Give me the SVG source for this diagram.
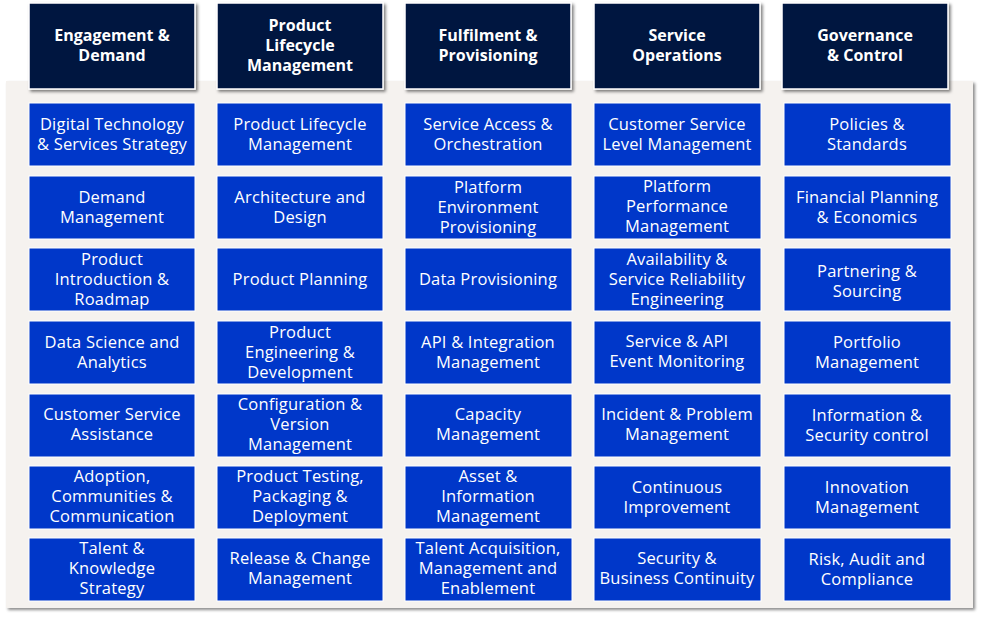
<svg xmlns="http://www.w3.org/2000/svg" width="981" height="619" viewBox="0 0 981 619">
<defs>
<filter id="sh" x="-5%" y="-5%" width="110%" height="110%"><feDropShadow dx="2" dy="2" stdDeviation="1.5" flood-color="#000" flood-opacity="0.45"/></filter>
<filter id="sh2" x="-10%" y="-10%" width="120%" height="120%"><feDropShadow dx="2" dy="2" stdDeviation="1.5" flood-color="#000" flood-opacity="0.5"/></filter>
</defs>
<style>
.hd{fill:#061241;stroke:#fff;stroke-width:1.5}
.cell{fill:#0037c9;stroke:#fff;stroke-width:1}
.ht{font-family:"Open Sans","Noto Sans",sans-serif;font-weight:bold;font-size:16px;fill:#fff;text-anchor:middle}
.ct{font-family:"Open Sans","Noto Sans",sans-serif;font-size:16.5px;letter-spacing:0.2px;fill:#fff;text-anchor:middle}
</style>
<rect width="981" height="619" fill="#fff"/>
<rect x="6" y="81" width="967" height="527" fill="#f5f2ef" filter="url(#sh)"/>
<g id="headers">
<g id="h1"><rect class="hd" x="29" y="3" width="166" height="86" filter="url(#sh2)"/><text class="ht" x="112" y="41">Engagement &amp;</text><text class="ht" x="112" y="61">Demand</text></g>
<g id="h2"><rect class="hd" x="217" y="3" width="166" height="86" filter="url(#sh2)"/><text class="ht" x="300" y="31">Product</text><text class="ht" x="300" y="51">Lifecycle</text><text class="ht" x="300" y="71">Management</text></g>
<g id="h3"><rect class="hd" x="405" y="3" width="166" height="86" filter="url(#sh2)"/><text class="ht" x="488" y="41">Fulfilment &amp;</text><text class="ht" x="488" y="61">Provisioning</text></g>
<g id="h4"><rect class="hd" x="594" y="3" width="166" height="86" filter="url(#sh2)"/><text class="ht" x="677" y="41">Service</text><text class="ht" x="677" y="61">Operations</text></g>
<g id="h5"><rect class="hd" x="782" y="3" width="166" height="86" filter="url(#sh2)"/><text class="ht" x="865" y="41">Governance</text><text class="ht" x="865" y="61">&amp; Control</text></g>
</g>
<g id="col1">
<g id="c1r1"><rect class="cell" x="29" y="103" width="166" height="63"/><text class="ct" x="112" y="130">Digital Technology</text><text class="ct" x="112" y="150">&amp; Services Strategy</text></g>
<g id="c1r2"><rect class="cell" x="29" y="176" width="166" height="63"/><text class="ct" x="112" y="203">Demand</text><text class="ct" x="112" y="223">Management</text></g>
<g id="c1r3"><rect class="cell" x="29" y="248" width="166" height="63"/><text class="ct" x="112" y="265">Product</text><text class="ct" x="112" y="285">Introduction &amp;</text><text class="ct" x="112" y="305">Roadmap</text></g>
<g id="c1r4"><rect class="cell" x="29" y="321" width="166" height="63"/><text class="ct" x="112" y="348">Data Science and</text><text class="ct" x="112" y="368">Analytics</text></g>
<g id="c1r5"><rect class="cell" x="29" y="394" width="166" height="63"/><text class="ct" x="112" y="420">Customer Service</text><text class="ct" x="112" y="440">Assistance</text></g>
<g id="c1r6"><rect class="cell" x="29" y="466" width="166" height="63"/><text class="ct" x="112" y="482">Adoption,</text><text class="ct" x="112" y="502">Communities &amp;</text><text class="ct" x="112" y="522">Communication</text></g>
<g id="c1r7"><rect class="cell" x="29" y="538" width="166" height="63"/><text class="ct" x="112" y="554">Talent &amp;</text><text class="ct" x="112" y="574">Knowledge</text><text class="ct" x="112" y="594">Strategy</text></g>
</g>
<g id="col2">
<g id="c2r1"><rect class="cell" x="217" y="103" width="166" height="63"/><text class="ct" x="300" y="130">Product Lifecycle</text><text class="ct" x="300" y="150">Management</text></g>
<g id="c2r2"><rect class="cell" x="217" y="176" width="166" height="63"/><text class="ct" x="300" y="203">Architecture and</text><text class="ct" x="300" y="223">Design</text></g>
<g id="c2r3"><rect class="cell" x="217" y="248" width="166" height="63"/><text class="ct" x="300" y="285">Product Planning</text></g>
<g id="c2r4"><rect class="cell" x="217" y="321" width="166" height="63"/><text class="ct" x="300" y="338">Product</text><text class="ct" x="300" y="358">Engineering &amp;</text><text class="ct" x="300" y="378">Development</text></g>
<g id="c2r5"><rect class="cell" x="217" y="394" width="166" height="63"/><text class="ct" x="300" y="410">Configuration &amp;</text><text class="ct" x="300" y="430">Version</text><text class="ct" x="300" y="450">Management</text></g>
<g id="c2r6"><rect class="cell" x="217" y="466" width="166" height="63"/><text class="ct" x="300" y="482">Product Testing,</text><text class="ct" x="300" y="502">Packaging &amp;</text><text class="ct" x="300" y="522">Deployment</text></g>
<g id="c2r7"><rect class="cell" x="217" y="538" width="166" height="63"/><text class="ct" x="300" y="564">Release &amp; Change</text><text class="ct" x="300" y="584">Management</text></g>
</g>
<g id="col3">
<g id="c3r1"><rect class="cell" x="405" y="103" width="167" height="63"/><text class="ct" x="488" y="130">Service Access &amp;</text><text class="ct" x="488" y="150">Orchestration</text></g>
<g id="c3r2"><rect class="cell" x="405" y="176" width="167" height="63"/><text class="ct" x="488" y="193">Platform</text><text class="ct" x="488" y="213">Environment</text><text class="ct" x="488" y="233">Provisioning</text></g>
<g id="c3r3"><rect class="cell" x="405" y="248" width="167" height="63"/><text class="ct" x="488" y="285">Data Provisioning</text></g>
<g id="c3r4"><rect class="cell" x="405" y="321" width="167" height="63"/><text class="ct" x="488" y="348">API &amp; Integration</text><text class="ct" x="488" y="368">Management</text></g>
<g id="c3r5"><rect class="cell" x="405" y="394" width="167" height="63"/><text class="ct" x="488" y="420">Capacity</text><text class="ct" x="488" y="440">Management</text></g>
<g id="c3r6"><rect class="cell" x="405" y="466" width="167" height="63"/><text class="ct" x="488" y="482">Asset &amp;</text><text class="ct" x="488" y="502">Information</text><text class="ct" x="488" y="522">Management</text></g>
<g id="c3r7"><rect class="cell" x="405" y="538" width="167" height="63"/><text class="ct" x="488" y="554">Talent Acquisition,</text><text class="ct" x="488" y="574">Management and</text><text class="ct" x="488" y="594">Enablement</text></g>
</g>
<g id="col4">
<g id="c4r1"><rect class="cell" x="594" y="103" width="167" height="63"/><text class="ct" x="677" y="130">Customer Service</text><text class="ct" x="677" y="150">Level Management</text></g>
<g id="c4r2"><rect class="cell" x="594" y="176" width="167" height="63"/><text class="ct" x="677" y="192">Platform</text><text class="ct" x="677" y="212">Performance</text><text class="ct" x="677" y="232">Management</text></g>
<g id="c4r3"><rect class="cell" x="594" y="248" width="167" height="63"/><text class="ct" x="677" y="265">Availability &amp;</text><text class="ct" x="677" y="285">Service Reliability</text><text class="ct" x="677" y="305">Engineering</text></g>
<g id="c4r4"><rect class="cell" x="594" y="321" width="167" height="63"/><text class="ct" x="677" y="347">Service &amp; API</text><text class="ct" x="677" y="367">Event Monitoring</text></g>
<g id="c4r5"><rect class="cell" x="594" y="394" width="167" height="63"/><text class="ct" x="677" y="420">Incident &amp; Problem</text><text class="ct" x="677" y="440">Management</text></g>
<g id="c4r6"><rect class="cell" x="594" y="466" width="167" height="63"/><text class="ct" x="677" y="493">Continuous</text><text class="ct" x="677" y="513">Improvement</text></g>
<g id="c4r7"><rect class="cell" x="594" y="538" width="167" height="63"/><text class="ct" x="677" y="564">Security &amp;</text><text class="ct" x="677" y="584">Business Continuity</text></g>
</g>
<g id="col5">
<g id="c5r1"><rect class="cell" x="784" y="103" width="167" height="63"/><text class="ct" x="867" y="130">Policies &amp;</text><text class="ct" x="867" y="150">Standards</text></g>
<g id="c5r2"><rect class="cell" x="784" y="176" width="167" height="63"/><text class="ct" x="867" y="203">Financial Planning</text><text class="ct" x="867" y="223">&amp; Economics</text></g>
<g id="c5r3"><rect class="cell" x="784" y="248" width="167" height="63"/><text class="ct" x="867" y="277">Partnering &amp;</text><text class="ct" x="867" y="297">Sourcing</text></g>
<g id="c5r4"><rect class="cell" x="784" y="321" width="167" height="63"/><text class="ct" x="867" y="348">Portfolio</text><text class="ct" x="867" y="368">Management</text></g>
<g id="c5r5"><rect class="cell" x="784" y="394" width="167" height="63"/><text class="ct" x="867" y="421">Information &amp;</text><text class="ct" x="867" y="441">Security control</text></g>
<g id="c5r6"><rect class="cell" x="784" y="466" width="167" height="63"/><text class="ct" x="867" y="493">Innovation</text><text class="ct" x="867" y="513">Management</text></g>
<g id="c5r7"><rect class="cell" x="784" y="538" width="167" height="63"/><text class="ct" x="867" y="565">Risk, Audit and</text><text class="ct" x="867" y="585">Compliance</text></g>
</g>
<g id="connectors"/>
</svg>
